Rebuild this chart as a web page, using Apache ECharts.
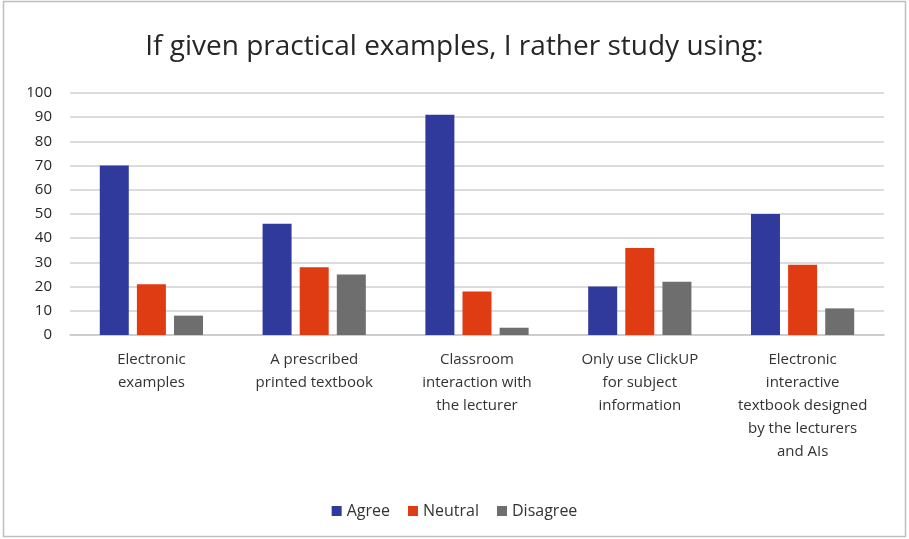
<!DOCTYPE html>
<html>
<head>
<meta charset="utf-8">
<script src="https://cdn.jsdelivr.net/npm/echarts@6/dist/echarts.min.js"></script>
<style>
html,body{margin:0;padding:0;background:#fff;}
#c{width:909px;height:539px;}
</style>
</head>
<body>
<div id="c"></div>
<script>
const categories = [
  "Electronic\nexamples",
  "A prescribed\nprinted textbook",
  "Classroom\ninteraction with\nthe lecturer",
  "Only use ClickUP\nfor subject\ninformation",
  "Electronic\ninteractive\ntextbook designed\nby the lecturers\nand AIs"
];
const agree = [70, 46, 91, 20, 50];
const neutral = [21, 28, 18, 36, 29];
const disagree = [8, 25, 3, 22, 11];
const yTicks = [0, 10, 20, 30, 40, 50, 60, 70, 80, 90, 100];

const font = "'Open Sans', 'Noto Sans', sans-serif";
const chart = echarts.init(document.getElementById('c'));
chart.setOption({
  animation: false,
  backgroundColor: '#fff',
  title: {
    text: 'If given practical examples, I rather study using:',
    left: 'center',
    top: 28,
    textStyle: {fontFamily: font, fontSize: 28, fontWeight: 'normal', color: '#262626'}
  },
  graphic: [{
    type: 'rect',
    shape: {x: 3.5, y: 1.5, width: 902, height: 535},
    style: {fill: 'none', stroke: '#bfbfbf', lineWidth: 1.5},
    silent: true
  }],
  legend: {
    bottom: 15,
    left: 'center',
    itemWidth: 10,
    itemHeight: 10,
    itemGap: 18,
    icon: 'rect',
    textStyle: {fontFamily: font, fontSize: 16, color: '#333333'},
    data: ['Agree', 'Neutral', 'Disagree']
  },
  grid: {left: 70, right: 25, top: 93, bottom: 204},
  xAxis: {
    type: 'category',
    data: categories,
    axisLine: {lineStyle: {color: '#c8c8c8', width: 1.5}},
    axisTick: {show: false},
    axisLabel: {
      interval: 0,
      fontFamily: font,
      fontSize: 15,
      color: '#333333',
      lineHeight: 23,
      margin: 13
    }
  },
  yAxis: {
    type: 'value',
    min: yTicks[0],
    max: yTicks[yTicks.length - 1],
    interval: 10,
    axisLine: {show: false},
    axisTick: {show: false},
    axisLabel: {fontFamily: font, fontSize: 15, color: '#262626', margin: 18},
    splitLine: {lineStyle: {color: '#d0d0d0', width: 1.5}}
  },
  series: [
    {name: 'Agree', type: 'bar', data: agree, barWidth: 29, barGap: '28%', itemStyle: {color: '#303a9c'}},
    {name: 'Neutral', type: 'bar', data: neutral, barWidth: 29, barGap: '28%', itemStyle: {color: '#e03c14'}},
    {name: 'Disagree', type: 'bar', data: disagree, barWidth: 29, barGap: '28%', itemStyle: {color: '#6e6e6e'}}
  ]
});
</script>
</body>
</html>
